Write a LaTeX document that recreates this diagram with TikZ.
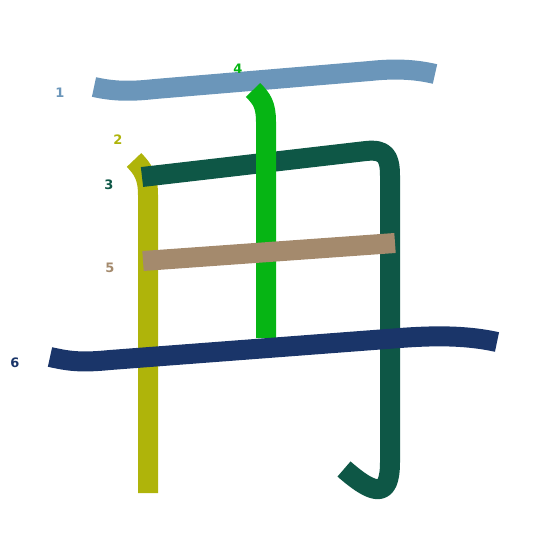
\documentclass[tikz,border=0pt]{standalone}
\usepackage{fontspec}
\setmainfont{DejaVu Sans}
\definecolor{cA}{HTML}{6B96BA}
\definecolor{cB}{HTML}{AFB40A}
\definecolor{cC}{HTML}{0E5746}
\definecolor{cD}{HTML}{06B514}
\definecolor{cE}{HTML}{A48A6D}
\definecolor{cF}{HTML}{1A3569}
\begin{document}
\begin{tikzpicture}[x=1pt,y=-1pt,
  stroke/.style={line width=20pt,line cap=butt,line join=round},
  num/.style={font=\fontsize{13}{13}\selectfont\bfseries,inner sep=0pt}]
\useasboundingbox (0,0) rectangle (545,545);
% stroke 1
\draw[stroke,cA] (94,87) .. controls (112,91) and (128,92) .. (155,89) -- (370,71) .. controls (398,68) and (418,70) .. (435,74);
% stroke 2
\draw[stroke,cB] (134,160) .. controls (143,169) and (148,177) .. (148,195) -- (148,493);
% stroke 3
\draw[stroke,cC] (142,177) -- (366,151) .. controls (385,149) and (390,156) .. (390,176) -- (390,462) .. controls (390,497) and (376,497) .. (344,469);
% stroke 4
\draw[stroke,cD] (253,90) .. controls (262,99) and (266,105) .. (266,122) -- (266,338);
% stroke 5
\draw[stroke,cE] (143,261) -- (395,243);
% stroke 6
\draw[stroke,cF] (50,357) .. controls (68,361) and (80,363) .. (110,360) -- (400,338) .. controls (440,335) and (470,336) .. (497,342);
% labels
\node[num,text=cA] (n1) at (60,93) {1};
\node[num,text=cB] (n2) at (118,140) {2};
\node[num,text=cC] (n3) at (109,185) {3};
\node[num,text=cD] (n4) at (238,69) {4};
\node[num,text=cE] (n5) at (110,268) {5};
\node[num,text=cF] (n6) at (15,363) {6};
\end{tikzpicture}
\end{document}
